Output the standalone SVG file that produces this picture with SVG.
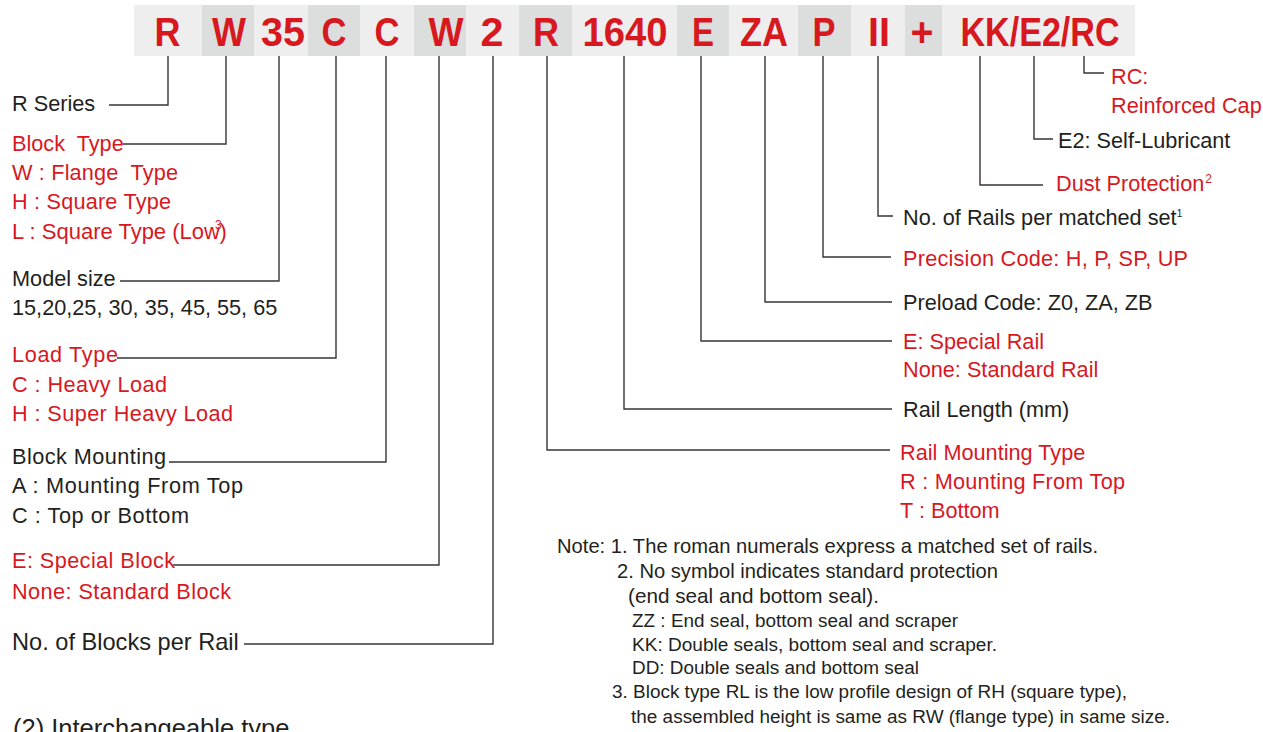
<svg xmlns="http://www.w3.org/2000/svg" width="1263" height="732" viewBox="0 0 1263 732">
<style>
text{font-family:"Liberation Sans",Arial,sans-serif;white-space:pre}
.l{font-size:21.7px}
.r{fill:#d7181f}
.k{fill:#231f20}
.code{font-size:40px;font-weight:bold;fill:#d7181f;text-anchor:middle}
.n1{font-size:21px;fill:#231f20}
.n2{font-size:17.5px;fill:#231f20}
.lt{fill:#eeeeee}
.dk{fill:#dcdddd}
.c{fill:none;stroke:#3a3433;stroke-width:1.4}
.sup{font-size:12px}
</style>
<rect width="1263" height="732" fill="#ffffff"/>
<g id="code-bar">
<rect class="lt" x="134" y="5" width="1001" height="51"/>
<rect class="dk" x="202" y="5" width="52" height="51"/>
<rect class="dk" x="308" y="5" width="52" height="51"/>
<rect class="dk" x="414" y="5" width="52" height="51"/>
<rect class="dk" x="519" y="5" width="53" height="51"/>
<rect class="dk" x="677" y="5" width="52" height="51"/>
<rect class="dk" x="798" y="5" width="53" height="51"/>
<rect class="dk" x="905" y="5" width="37" height="51"/>
<text class="code" x="167.5" y="46" textLength="26" lengthAdjust="spacingAndGlyphs">R</text>
<text class="code" x="229" y="46" textLength="34" lengthAdjust="spacingAndGlyphs">W</text>
<text class="code" x="283" y="46" textLength="44" lengthAdjust="spacingAndGlyphs">35</text>
<text class="code" x="334" y="46" textLength="25" lengthAdjust="spacingAndGlyphs">C</text>
<text class="code" x="387" y="46" textLength="25" lengthAdjust="spacingAndGlyphs">C</text>
<text class="code" x="446" y="46" textLength="35" lengthAdjust="spacingAndGlyphs">W</text>
<text class="code" x="492" y="46" textLength="23" lengthAdjust="spacingAndGlyphs">2</text>
<text class="code" x="546" y="46" textLength="26" lengthAdjust="spacingAndGlyphs">R</text>
<text class="code" x="625" y="46" textLength="85" lengthAdjust="spacingAndGlyphs">1640</text>
<text class="code" x="703" y="46" textLength="22" lengthAdjust="spacingAndGlyphs">E</text>
<text class="code" x="764" y="46" textLength="48" lengthAdjust="spacingAndGlyphs">ZA</text>
<text class="code" x="824" y="46" textLength="23" lengthAdjust="spacingAndGlyphs">P</text>
<text class="code" x="879" y="46" textLength="22" lengthAdjust="spacingAndGlyphs">II</text>
<text class="code" x="922" y="46" textLength="23" lengthAdjust="spacingAndGlyphs">+</text>
<text class="code" x="1040" y="46" textLength="159" lengthAdjust="spacingAndGlyphs">KK/E2/RC</text>
</g>
<g id="connectors">
<path class="c" d="M168 56V105H109"/>
<path class="c" d="M226 56V144H123"/>
<path class="c" d="M279 56V281H120"/>
<path class="c" d="M336 56V358H117"/>
<path class="c" d="M386 56V462H169"/>
<path class="c" d="M439 56V565H173"/>
<path class="c" d="M493 56V644H244"/>
<path class="c" d="M547 56V450H890"/>
<path class="c" d="M624 56V409H892"/>
<path class="c" d="M701 56V341H892"/>
<path class="c" d="M765 56V302H892"/>
<path class="c" d="M823 56V257H891"/>
<path class="c" d="M878 56V216H893"/>
<path class="c" d="M980 56V185H1043"/>
<path class="c" d="M1034 56V139H1053"/>
<path class="c" d="M1084 56V73H1104"/>
</g>
<g id="r-series"><text class="l k" x="12" y="111">R Series</text></g>
<g id="block-type">
<text class="l r" x="12" y="151">Block  Type</text>
<text class="l r" x="12" y="180" textLength="166" lengthAdjust="spacing">W : Flange  Type</text>
<text class="l r" x="12" y="209" textLength="159" lengthAdjust="spacing">H : Square Type</text>
<text class="l r" x="12" y="239" style="font-size:22px">L : Square Type (Low<tspan class="sup" dx="-5" dy="-10">3</tspan><tspan dx="-2" dy="10">)</tspan></text>
</g>
<g id="model-size">
<text class="l k" x="12" y="286">Model size</text>
<text class="l k" x="12" y="315">15,20,25, 30, 35, 45, 55, 65</text>
</g>
<g id="load-type">
<text class="l r" x="12" y="362" textLength="106" lengthAdjust="spacing">Load Type</text>
<text class="l r" x="12" y="392" textLength="155" lengthAdjust="spacing">C : Heavy Load</text>
<text class="l r" x="12" y="421" textLength="221" lengthAdjust="spacing">H : Super Heavy Load</text>
</g>
<g id="block-mounting">
<text class="l k" x="12" y="464" textLength="154" lengthAdjust="spacing">Block Mounting</text>
<text class="l k" x="12" y="493" textLength="231" lengthAdjust="spacing">A : Mounting From Top</text>
<text class="l k" x="12" y="523" textLength="177" lengthAdjust="spacing">C : Top or Bottom</text>
</g>
<g id="special-block">
<text class="l r" x="12" y="568" textLength="163" lengthAdjust="spacing">E: Special Block</text>
<text class="l r" x="12" y="599" textLength="219" lengthAdjust="spacing">None: Standard Block</text>
</g>
<g id="blocks-per-rail"><text class="k" style="font-size:23.6px" x="12" y="650">No. of Blocks per Rail</text></g>
<g id="rc">
<text class="l r" x="1111" y="84">RC:</text>
<text class="l r" x="1111" y="113">Reinforced Cap</text>
</g>
<g id="e2"><text class="l k" x="1058" y="148">E2: Self-Lubricant</text></g>
<g id="dust"><text class="l r" x="1056" y="191">Dust Protection<tspan class="sup" dx="1" dy="-8">2</tspan></text></g>
<g id="rails-per-set"><text class="l k" x="903" y="225">No. of Rails per matched set<tspan style="font-size:10px" dx="0" dy="-8">1</tspan></text></g>
<g id="precision"><text class="l r" x="903" y="266" textLength="285" lengthAdjust="spacing">Precision Code: H, P, SP, UP</text></g>
<g id="preload"><text class="l k" x="903" y="310">Preload Code: Z0, ZA, ZB</text></g>
<g id="special-rail">
<text class="l r" x="903" y="349">E: Special Rail</text>
<text class="l r" x="903" y="377">None: Standard Rail</text>
</g>
<g id="rail-length"><text class="l k" x="903" y="417">Rail Length (mm)</text></g>
<g id="rail-mounting">
<text class="l r" x="900" y="460">Rail Mounting Type</text>
<text class="l r" x="900" y="489" textLength="225" lengthAdjust="spacing">R : Mounting From Top</text>
<text class="l r" x="900" y="518">T : Bottom</text>
</g>
<g id="notes">
<text class="n1" x="557" y="553" textLength="541" lengthAdjust="spacingAndGlyphs">Note: 1. The roman numerals express a matched set of rails.</text>
<text class="n1" x="617" y="578" textLength="381" lengthAdjust="spacingAndGlyphs">2. No symbol indicates standard protection</text>
<text class="n1" x="628" y="603" textLength="251" lengthAdjust="spacingAndGlyphs">(end seal and bottom seal).</text>
<text class="n2" x="632" y="627" textLength="326" lengthAdjust="spacingAndGlyphs">ZZ : End seal, bottom seal and scraper</text>
<text class="n2" x="632" y="651" textLength="365" lengthAdjust="spacingAndGlyphs">KK: Double seals, bottom seal and scraper.</text>
<text class="n2" x="632" y="674" textLength="287" lengthAdjust="spacingAndGlyphs">DD: Double seals and bottom seal</text>
<text class="n2" x="612" y="698" textLength="515" lengthAdjust="spacingAndGlyphs">3. Block type RL is the low profile design of RH (square type),</text>
<text class="n2" x="631" y="723" textLength="539" lengthAdjust="spacingAndGlyphs">the assembled height is same as RW (flange type) in same size.</text>
</g>
<g id="interchangeable"><text class="k" style="font-size:25.5px" x="13" y="737">(2) Interchangeable type</text></g>
</svg>
